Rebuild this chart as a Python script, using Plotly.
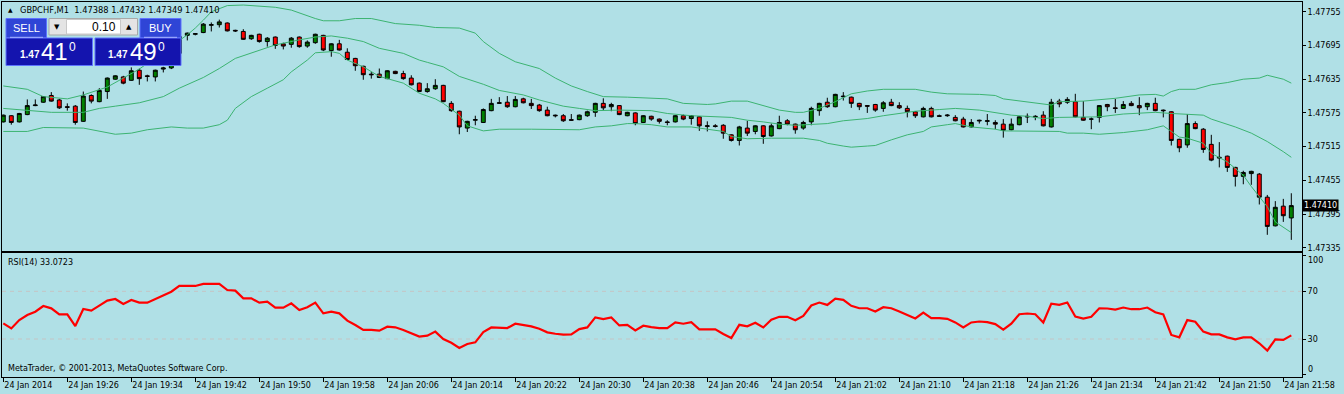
import pandas as pd
import plotly.graph_objects as go

# ---------------- data ----------------
header_text = "GBPCHF,M1  1.47388 1.47432 1.47349 1.47410"
start_time = "2014-01-24 19:18"
n_bars = 162

opens = [
    1.47559, 1.47570, 1.47559, 1.47572, 1.47588, 1.47594, 1.47606, 1.47598, 1.47586, 1.47587,
    1.47560, 1.47606, 1.47595, 1.47613, 1.47635, 1.47639, 1.47633, 1.47651, 1.47641, 1.47639,
    1.47653, 1.47655, 1.47681, 1.47713, 1.47715, 1.47718, 1.47731, 1.47732, 1.47735, 1.47722,
    1.47720, 1.47707, 1.47715, 1.47702, 1.47710, 1.47698, 1.47697, 1.47710, 1.47694, 1.47700,
    1.47713, 1.47686, 1.47698, 1.47683, 1.47672, 1.47658, 1.47644, 1.47644, 1.47636, 1.47649,
    1.47645, 1.47637, 1.47628, 1.47613, 1.47618, 1.47624, 1.47592, 1.47578, 1.47548, 1.47562,
    1.47558, 1.47579, 1.47592, 1.47594, 1.47586, 1.47600, 1.47592, 1.47589, 1.47580, 1.47571,
    1.47570, 1.47563, 1.47563, 1.47570, 1.47576, 1.47592, 1.47586, 1.47588, 1.47570, 1.47575,
    1.47558, 1.47569, 1.47564, 1.47559, 1.47559, 1.47570, 1.47565, 1.47568, 1.47551, 1.47552,
    1.47553, 1.47536, 1.47526, 1.47548, 1.47542, 1.47552, 1.47534, 1.47547, 1.47561, 1.47555,
    1.47548, 1.47559, 1.47579, 1.47594, 1.47586, 1.47605, 1.47603, 1.47592, 1.47588, 1.47590,
    1.47583, 1.47594, 1.47588, 1.47583, 1.47577, 1.47568, 1.47583, 1.47570, 1.47570, 1.47567,
    1.47564, 1.47550, 1.47562, 1.47560, 1.47558, 1.47555, 1.47545, 1.47554, 1.47569, 1.47569,
    1.47571, 1.47550, 1.47596, 1.47594, 1.47595, 1.47567, 1.47564, 1.47567, 1.47590, 1.47584,
    1.47583, 1.47592, 1.47588, 1.47586, 1.47592, 1.47580, 1.47577, 1.47528, 1.47518, 1.47556,
    1.47546, 1.47519, 1.47496, 1.47498, 1.47478, 1.47462, 1.47467, 1.47466, 1.47425, 1.47374,
    1.47409, 1.47388,
]
highs = [
    1.47572, 1.47571, 1.47575, 1.47599, 1.47599, 1.47605, 1.47612, 1.47600, 1.47592, 1.47589,
    1.47613, 1.47608, 1.47619, 1.47638, 1.47642, 1.47641, 1.47656, 1.47654, 1.47643, 1.47652,
    1.47657, 1.47687, 1.47717, 1.47718, 1.47717, 1.47735, 1.47736, 1.47741, 1.47736, 1.47723,
    1.47724, 1.47714, 1.47716, 1.47710, 1.47711, 1.47700, 1.47710, 1.47711, 1.47704, 1.47716,
    1.47714, 1.47699, 1.47705, 1.47690, 1.47673, 1.47659, 1.47648, 1.47654, 1.47651, 1.47650,
    1.47650, 1.47642, 1.47629, 1.47628, 1.47635, 1.47625, 1.47596, 1.47579, 1.47561, 1.47570,
    1.47583, 1.47600, 1.47603, 1.47605, 1.47605, 1.47602, 1.47600, 1.47591, 1.47586, 1.47572,
    1.47573, 1.47573, 1.47572, 1.47579, 1.47593, 1.47601, 1.47593, 1.47589, 1.47577, 1.47576,
    1.47571, 1.47570, 1.47565, 1.47562, 1.47571, 1.47572, 1.47571, 1.47569, 1.47560, 1.47555,
    1.47555, 1.47537, 1.47552, 1.47561, 1.47553, 1.47553, 1.47556, 1.47570, 1.47564, 1.47556,
    1.47561, 1.47586, 1.47593, 1.47602, 1.47609, 1.47612, 1.47604, 1.47593, 1.47589, 1.47591,
    1.47596, 1.47600, 1.47594, 1.47588, 1.47578, 1.47586, 1.47586, 1.47572, 1.47573, 1.47571,
    1.47568, 1.47564, 1.47563, 1.47573, 1.47562, 1.47564, 1.47565, 1.47569, 1.47574, 1.47571,
    1.47578, 1.47600, 1.47600, 1.47603, 1.47609, 1.47596, 1.47567, 1.47589, 1.47591, 1.47600,
    1.47596, 1.47596, 1.47603, 1.47593, 1.47602, 1.47581, 1.47578, 1.47529, 1.47573, 1.47560,
    1.47548, 1.47536, 1.47523, 1.47499, 1.47479, 1.47472, 1.47472, 1.47468, 1.47429, 1.47418,
    1.47422, 1.47432,
]
lows = [
    1.47558, 1.47554, 1.47558, 1.47571, 1.47587, 1.47593, 1.47595, 1.47582, 1.47579, 1.47554,
    1.47559, 1.47592, 1.47594, 1.47600, 1.47634, 1.47626, 1.47632, 1.47625, 1.47631, 1.47631,
    1.47647, 1.47653, 1.47678, 1.47704, 1.47713, 1.47717, 1.47720, 1.47727, 1.47720, 1.47719,
    1.47705, 1.47705, 1.47700, 1.47693, 1.47689, 1.47688, 1.47691, 1.47691, 1.47691, 1.47698,
    1.47685, 1.47675, 1.47686, 1.47669, 1.47650, 1.47634, 1.47636, 1.47637, 1.47635, 1.47644,
    1.47634, 1.47624, 1.47612, 1.47611, 1.47616, 1.47594, 1.47577, 1.47537, 1.47541, 1.47553,
    1.47557, 1.47578, 1.47591, 1.47584, 1.47585, 1.47592, 1.47582, 1.47577, 1.47569, 1.47567,
    1.47559, 1.47561, 1.47562, 1.47568, 1.47568, 1.47580, 1.47578, 1.47571, 1.47569, 1.47553,
    1.47557, 1.47561, 1.47556, 1.47553, 1.47558, 1.47562, 1.47554, 1.47543, 1.47542, 1.47549,
    1.47529, 1.47524, 1.47517, 1.47534, 1.47537, 1.47520, 1.47533, 1.47546, 1.47553, 1.47538,
    1.47545, 1.47553, 1.47570, 1.47584, 1.47585, 1.47597, 1.47584, 1.47580, 1.47575, 1.47577,
    1.47577, 1.47587, 1.47582, 1.47567, 1.47566, 1.47567, 1.47567, 1.47568, 1.47568, 1.47560,
    1.47549, 1.47549, 1.47556, 1.47553, 1.47546, 1.47531, 1.47544, 1.47553, 1.47557, 1.47562,
    1.47551, 1.47549, 1.47585, 1.47591, 1.47567, 1.47561, 1.47546, 1.47558, 1.47578, 1.47575,
    1.47582, 1.47587, 1.47571, 1.47580, 1.47578, 1.47567, 1.47517, 1.47505, 1.47513, 1.47546,
    1.47504, 1.47489, 1.47478, 1.47470, 1.47444, 1.47448, 1.47447, 1.47412, 1.47358, 1.47373,
    1.47381, 1.47349,
]
closes = [
    1.47571, 1.47558, 1.47574, 1.47588, 1.47589, 1.47604, 1.47596, 1.47584, 1.47585, 1.47558,
    1.47605, 1.47596, 1.47615, 1.47637, 1.47641, 1.47628, 1.47650, 1.47636, 1.47640, 1.47651,
    1.47655, 1.47681, 1.47711, 1.47717, 1.47716, 1.47733, 1.47732, 1.47737, 1.47721, 1.47721,
    1.47706, 1.47713, 1.47702, 1.47708, 1.47695, 1.47694, 1.47708, 1.47693, 1.47701, 1.47715,
    1.47687, 1.47698, 1.47687, 1.47670, 1.47659, 1.47643, 1.47643, 1.47638, 1.47650, 1.47645,
    1.47636, 1.47625, 1.47613, 1.47618, 1.47624, 1.47595, 1.47579, 1.47550, 1.47560, 1.47563,
    1.47581, 1.47592, 1.47593, 1.47586, 1.47599, 1.47593, 1.47588, 1.47579, 1.47570, 1.47570,
    1.47561, 1.47562, 1.47571, 1.47577, 1.47592, 1.47584, 1.47590, 1.47572, 1.47576, 1.47556,
    1.47570, 1.47564, 1.47560, 1.47558, 1.47570, 1.47564, 1.47570, 1.47552, 1.47552, 1.47551,
    1.47539, 1.47526, 1.47550, 1.47539, 1.47552, 1.47533, 1.47552, 1.47558, 1.47555, 1.47545,
    1.47558, 1.47583, 1.47592, 1.47586, 1.47608, 1.47604, 1.47592, 1.47586, 1.47587, 1.47580,
    1.47593, 1.47588, 1.47584, 1.47577, 1.47570, 1.47583, 1.47568, 1.47569, 1.47571, 1.47561,
    1.47550, 1.47558, 1.47561, 1.47561, 1.47555, 1.47544, 1.47555, 1.47568, 1.47568, 1.47568,
    1.47552, 1.47594, 1.47591, 1.47599, 1.47568, 1.47562, 1.47564, 1.47588, 1.47586, 1.47583,
    1.47590, 1.47588, 1.47584, 1.47592, 1.47579, 1.47579, 1.47526, 1.47513, 1.47556, 1.47547,
    1.47510, 1.47491, 1.47495, 1.47478, 1.47462, 1.47469, 1.47471, 1.47425, 1.47373, 1.47407,
    1.47392, 1.47410,
]

# Bollinger bands read at sample bars: (bar index, price)
bb_upper = [
    (0, 1.47623), (3, 1.47617), (5, 1.47604), (8, 1.47600), (10, 1.47607), (13, 1.47621),
    (15, 1.47637), (17, 1.47653), (23, 1.47714), (24, 1.47726), (25, 1.47740), (26, 1.47755),
    (28, 1.47766), (30, 1.47767), (34, 1.47763), (36, 1.47758), (39, 1.47743), (40, 1.47739),
    (42, 1.47739), (44, 1.47743), (46, 1.47743), (49, 1.47734), (52, 1.47731), (54, 1.47727),
    (57, 1.47726), (59, 1.47717), (60, 1.47702), (62, 1.47681), (64, 1.47666), (67, 1.47654),
    (69, 1.47637), (71, 1.47623), (73, 1.47613), (75, 1.47604), (78, 1.47603), (81, 1.47601),
    (83, 1.47600), (85, 1.47592), (88, 1.47590), (89, 1.47591), (91, 1.47596), (93, 1.47596),
    (95, 1.47588), (97, 1.47580), (99, 1.47576), (100, 1.47576), (102, 1.47583), (104, 1.47595),
    (106, 1.47609), (108, 1.47614), (110, 1.47617), (114, 1.47617), (116, 1.47612), (118, 1.47609),
    (122, 1.47608), (124, 1.47606), (125, 1.47600), (128, 1.47595), (130, 1.47591), (131, 1.47589),
    (132, 1.47595), (135, 1.47596), (139, 1.47601), (142, 1.47607), (144, 1.47608), (145, 1.47605),
    (146, 1.47613), (147, 1.47617), (149, 1.47617), (151, 1.47625), (153, 1.47629), (155, 1.47635),
    (157, 1.47637), (158, 1.47642), (160, 1.47635), (161, 1.47628),
]
bb_middle = [
    (0, 1.47583), (3, 1.47580), (6, 1.47576), (10, 1.47576), (12, 1.47583), (14, 1.47587),
    (17, 1.47593), (20, 1.47604), (22, 1.47619), (25, 1.47638), (27, 1.47654), (29, 1.47672),
    (32, 1.47687), (34, 1.47696), (37, 1.47705), (39, 1.47710), (41, 1.47712), (43, 1.47708),
    (45, 1.47702), (47, 1.47690), (50, 1.47681), (52, 1.47669), (53, 1.47665), (55, 1.47657),
    (57, 1.47640), (60, 1.47626), (62, 1.47615), (65, 1.47607), (67, 1.47598), (70, 1.47587),
    (72, 1.47583), (74, 1.47579), (77, 1.47580), (79, 1.47580), (81, 1.47579), (83, 1.47574),
    (84, 1.47573), (86, 1.47570), (91, 1.47567), (93, 1.47562), (95, 1.47559), (97, 1.47555),
    (99, 1.47553), (101, 1.47554), (103, 1.47556), (105, 1.47561), (108, 1.47565), (110, 1.47570),
    (112, 1.47574), (114, 1.47578), (117, 1.47581), (119, 1.47583), (122, 1.47580), (124, 1.47576),
    (126, 1.47571), (128, 1.47569), (130, 1.47565), (132, 1.47567), (135, 1.47568), (137, 1.47568),
    (140, 1.47573), (143, 1.47576), (144, 1.47576), (146, 1.47574), (150, 1.47571), (151, 1.47564),
    (154, 1.47550), (156, 1.47539), (158, 1.47524), (160, 1.47506), (161, 1.47496),
]
bb_lower = [
    (0, 1.47542), (3, 1.47542), (5, 1.47549), (8, 1.47549), (10, 1.47548), (14, 1.47537),
    (16, 1.47539), (18, 1.47545), (21, 1.47550), (23, 1.47548), (25, 1.47548), (27, 1.47554),
    (28, 1.47562), (29, 1.47583), (31, 1.47604), (33, 1.47619), (35, 1.47634), (36, 1.47648),
    (38, 1.47669), (39, 1.47682), (41, 1.47684), (42, 1.47681), (43, 1.47669), (45, 1.47657),
    (47, 1.47640), (50, 1.47628), (52, 1.47610), (54, 1.47600), (55, 1.47592), (57, 1.47571),
    (58, 1.47552), (60, 1.47543), (62, 1.47546), (66, 1.47546), (71, 1.47545), (72, 1.47545),
    (74, 1.47550), (76, 1.47552), (78, 1.47556), (79, 1.47556), (81, 1.47554), (83, 1.47550),
    (86, 1.47550), (88, 1.47546), (90, 1.47542), (91, 1.47533), (93, 1.47529), (96, 1.47530),
    (100, 1.47530), (102, 1.47526), (103, 1.47521), (105, 1.47516), (106, 1.47514), (108, 1.47516),
    (109, 1.47517), (111, 1.47527), (113, 1.47536), (115, 1.47542), (116, 1.47550), (118, 1.47554),
    (119, 1.47556), (121, 1.47550), (124, 1.47546), (125, 1.47543), (129, 1.47543), (132, 1.47542),
    (133, 1.47539), (135, 1.47539), (137, 1.47537), (140, 1.47540), (143, 1.47545), (144, 1.47548),
    (145, 1.47552), (146, 1.47542), (147, 1.47532), (148, 1.47530), (150, 1.47521), (151, 1.47503),
    (153, 1.47488), (155, 1.47464), (156, 1.47444), (158, 1.47408), (159, 1.47381), (161, 1.47362),
]

rsi = [
    43.1, 38.9, 45.9, 50.1, 52.9, 57.7, 55.7, 50.7, 50.7, 40.9,
    55.2, 53.8, 58.0, 62.2, 63.6, 59.4, 62.7, 60.5, 60.5, 63.6,
    66.4, 69.7, 74.5, 74.5, 74.5, 76.2, 76.2, 76.2, 71.1, 70.6,
    64.1, 64.1, 60.5, 61.3, 56.3, 56.3, 59.9, 54.3, 56.6, 60.5,
    51.5, 52.9, 51.5, 45.4, 41.7, 37.6, 37.6, 37.0, 40.3, 39.8,
    37.6, 34.8, 32.0, 32.8, 36.2, 30.0, 26.8, 22.5, 25.8, 27.2,
    35.8, 39.7, 39.7, 39.2, 42.8, 41.9, 40.6, 38.6, 35.6, 34.4,
    33.6, 33.9, 38.3, 39.7, 48.1, 46.7, 48.1, 41.4, 41.9, 37.2,
    41.1, 40.0, 39.2, 39.2, 43.9, 42.8, 44.2, 38.1, 38.1, 38.1,
    34.2, 30.8, 41.9, 40.6, 43.6, 39.7, 46.1, 48.6, 48.6, 45.8,
    49.4, 58.1, 60.6, 58.6, 63.9, 62.8, 57.8, 55.8, 55.8, 53.1,
    56.7, 55.8, 53.1, 50.3, 47.2, 52.2, 47.5, 47.5, 46.9, 43.9,
    39.7, 43.9, 44.7, 44.2, 42.5, 37.8, 42.8, 50.8, 51.4, 50.8,
    43.9, 59.7, 58.6, 60.6, 48.9, 47.2, 48.6, 55.8, 55.6, 54.7,
    56.4, 55.0, 55.0, 56.4, 52.4, 50.7, 33.4, 31.4, 45.9, 44.5,
    36.2, 33.9, 33.9, 31.4, 29.7, 31.4, 31.4, 26.4, 20.2, 29.7,
    29.2, 33.07,
]
rsi_levels = [30, 70]

price_ticks = [1.47335, 1.47395, 1.47455, 1.47515, 1.47575, 1.47635, 1.47695, 1.47755]
rsi_ticks = [0, 30, 70, 100]
time_tick_labels = [
    "24 Jan 2014", "24 Jan 19:26", "24 Jan 19:34", "24 Jan 19:42", "24 Jan 19:50",
    "24 Jan 19:58", "24 Jan 20:06", "24 Jan 20:14", "24 Jan 20:22", "24 Jan 20:30",
    "24 Jan 20:38", "24 Jan 20:46", "24 Jan 20:54", "24 Jan 21:02", "24 Jan 21:10",
    "24 Jan 21:18", "24 Jan 21:26", "24 Jan 21:34", "24 Jan 21:42", "24 Jan 21:50",
    "24 Jan 21:58",
]
last_price = 1.47410
rsi_title = "RSI(14) 33.0723"
copyright_text = "MetaTrader, \u00a9 2001-2013, MetaQuotes Software Corp."
sell_price = ("1.47", "41", "0")
buy_price = ("1.47", "49", "0")
lot_size = "0.10"

# ---------------- layout geometry ----------------
W, H = 1344, 394
ML, MR, MT, MB = 2, 42, 2, 17
PW, PH = W - ML - MR, H - MT - MB

BG = "#B0E0E6"
BAND = "#3CB371"
FONT = "DejaVu Sans"
UIFONT = "Liberation Sans"


def px_x(px):
    return (px - ML) / PW


def px_y(py):
    return (H - MB - py) / PH


times = pd.date_range(start_time, periods=n_bars, freq="min")
tick_times = times[::8]
bar_w = pd.Timedelta(minutes=1)
x_range = [times[0] - 0.1625 * bar_w, times[0] + 162.3375 * bar_w]


def band_xy(pairs):
    return [times[i] for i, _ in pairs], [v for _, v in pairs]


fig = go.Figure()

fig.add_trace(go.Candlestick(
    x=times, open=opens, high=highs, low=lows, close=closes,
    increasing=dict(line=dict(color="black", width=1), fillcolor="#008000"),
    decreasing=dict(line=dict(color="black", width=1), fillcolor="#FF0000"),
    whiskerwidth=0, xaxis="x", yaxis="y", showlegend=False, hoverinfo="skip",
))
for pairs in (bb_upper, bb_middle, bb_lower):
    bx, by = band_xy(pairs)
    fig.add_trace(go.Scatter(x=bx, y=by, mode="lines", line=dict(color=BAND, width=1),
                             xaxis="x", yaxis="y", showlegend=False, hoverinfo="skip"))

fig.add_trace(go.Scatter(x=times, y=rsi, mode="lines", line=dict(color="#FF0000", width=2.2),
                         xaxis="x2", yaxis="y2", showlegend=False, hoverinfo="skip"))

axis_common = dict(showgrid=False, zeroline=False, showline=True, linecolor="black",
                   linewidth=1, mirror=True)

fig.update_layout(
    width=W, height=H,
    margin=dict(l=ML, r=MR, t=MT, b=MB, pad=0),
    paper_bgcolor=BG, plot_bgcolor=BG,
    font=dict(family=FONT, size=8, color="black"),
    showlegend=False,
    xaxis=dict(domain=[0, 1], anchor="y", range=x_range, type="date",
               showticklabels=False, ticks="", rangeslider=dict(visible=False),
               matches="x2", **axis_common),
    yaxis=dict(domain=[(H - MB - 250.5) / PH, 1], anchor="x", side="right",
               range=[1.473301, 1.477724], tickmode="array", tickvals=price_ticks,
               ticktext=[f"{v:.5f}" for v in price_ticks], ticks="outside", ticklen=3,
               tickcolor="black", tickfont=dict(family=FONT, size=8), **axis_common),
    xaxis2=dict(domain=[0, 1], anchor="y2", range=x_range, type="date",
                tickmode="array", tickvals=list(tick_times), ticktext=time_tick_labels,
                ticks="outside", ticklen=4, tickcolor="black",
                ticklabelposition="outside right",
                tickfont=dict(family=FONT, size=8), **axis_common),
    yaxis2=dict(domain=[0, (H - MB - 253) / PH], anchor="x2", side="right",
                range=[-1.89, 102.17], tickmode="array", tickvals=rsi_ticks,
                ticktext=["", "30", "70", ""], ticks="outside", ticklen=3,
                tickcolor="black", tickfont=dict(family=FONT, size=8), **axis_common),
)

shapes = []
for lvl in rsi_levels:
    shapes.append(dict(type="line", xref="x2 domain", yref="y2", x0=0, x1=1, y0=lvl, y1=lvl,
                       line=dict(color="#C4C4C4", width=1, dash="4px,4px"), layer="below"))


def rect(x0, y0, x1, y1, fill, line="#5F73FF", lw=1):
    shapes.append(dict(type="rect", xref="paper", yref="paper",
                       x0=px_x(x0), x1=px_x(x1), y0=px_y(y1), y1=px_y(y0),
                       fillcolor=fill, line=dict(color=line, width=lw), layer="above"))


# one-click trading panel
rect(6, 18.5, 46.5, 38, "#2F45D6")
rect(140, 18.5, 181, 38, "#2F45D6")
rect(6, 38, 92.5, 65.5, "#1414AE")
rect(95, 38, 181, 65.5, "#1414AE")
rect(49, 18.5, 137.5, 35, "#E4E4E4", line="#A8A8A8")
rect(66.5, 19.5, 120.5, 34, "#FFFFFF", line="#C8C8C8")
shapes.append(dict(type="line", xref="paper", yref="paper", x0=px_x(10), x1=px_x(43),
                   y0=px_y(37.3), y1=px_y(37.3), line=dict(color="#A8B4FF", width=1)))
shapes.append(dict(type="line", xref="paper", yref="paper", x0=px_x(144), x1=px_x(177),
                   y0=px_y(37.3), y1=px_y(37.3), line=dict(color="#A8B4FF", width=1)))

annotations = []


def text(px, py, s, size=8, color="black", family=FONT, xanchor="left", **kw):
    annotations.append(dict(xref="paper", yref="paper", x=px_x(px), y=px_y(py), text=s,
                            showarrow=False, xanchor=xanchor, yanchor="middle",
                            font=dict(family=family, size=size, color=color), **kw))


text(5.5, 10, "\u25b2", size=6)
text(17.5, 10, header_text.replace("  ", "&nbsp;&nbsp;"), size=8.3)
text(6, 262, rsi_title, size=8)
text(6, 368, copyright_text, size=8)
text(1306, 260, "100", size=8)
text(1306, 369, "0", size=8)

text(26.5, 28, "SELL", size=11, color="white", family=UIFONT, xanchor="center")
text(160.5, 28, "BUY", size=11, color="white", family=UIFONT, xanchor="center")
text(118, 26.5, lot_size, size=12, color="black", family=UIFONT, xanchor="right")
text(57.5, 26.5, "\u25bc", size=7, color="black", xanchor="center")
text(129, 26.5, "\u25b2", size=7, color="black", xanchor="center")

for (small, big, sup), (cx_small, cx_big, cx_sup) in (
        (sell_price, (30, 55, 72.5)), (buy_price, (118, 143.5, 161))):
    text(cx_small, 55, f"<b>{small}</b>", size=10, color="white", family=UIFONT, xanchor="center")
    text(cx_big, 51.5, big, size=24, color="white", family=UIFONT, xanchor="center")
    text(cx_sup, 47, sup, size=12, color="white", family=UIFONT, xanchor="center")

# current price marker on the price scale
annotations.append(dict(xref="paper", yref="y", x=px_x(1302), y=last_price,
                        text=f"{last_price:.5f}", showarrow=False, xanchor="left",
                        yanchor="middle", bgcolor="black", borderpad=1,
                        font=dict(family=FONT, size=8, color="white")))

fig.update_layout(shapes=shapes, annotations=annotations)
fig.write_html("out.html", config={"displayModeBar": False},
               post_script="document.body.style.margin='0';document.body.style.overflow='hidden';")
